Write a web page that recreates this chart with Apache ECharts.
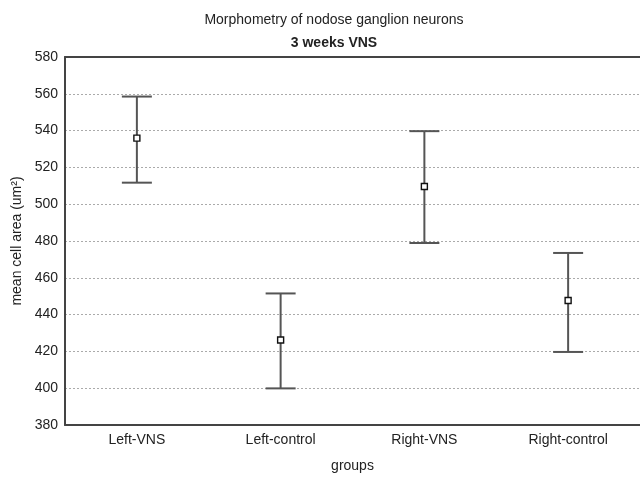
<!DOCTYPE html>
<html><head><meta charset="utf-8">
<script src="https://cdn.jsdelivr.net/npm/echarts@6/dist/echarts.min.js"></script>
<style>html,body{margin:0;padding:0;background:#fff}#c{width:640px;height:478px}</style>
</head><body><div id="c"></div>
<script>
const categories = ['Left-VNS', 'Left-control', 'Right-VNS', 'Right-control'];
const means = [535.9, 426.2, 509.6, 447.7];
const upper = [558.5, 451.5, 539.7, 473.5];
const lower = [511.7, 399.9, 478.9, 419.7];
const yTicks = { min: 380, max: 580, step: 20 };

const font = 'Liberation Sans, Arial, sans-serif';
const chart = echarts.init(document.getElementById('c'));
const errData = categories.map((c, i) => [i, lower[i], upper[i], means[i]]);

chart.setOption({
  animation: false,
  title: [
    { text: 'Morphometry of nodose ganglion neurons', left: 329, textAlign: 'center', top: 8,
      textStyle: { fontFamily: font, fontSize: 14, fontWeight: 'normal', color: '#222' } },
    { text: '3 weeks VNS', left: 329, textAlign: 'center', top: 31,
      textStyle: { fontFamily: font, fontSize: 14, fontWeight: 'bold', color: '#222' } }
  ],
  grid: { left: 65, top: 57, width: 580, height: 373, show: false },
  xAxis: [{
    type: 'category', data: categories, boundaryGap: true, position: 'bottom',
    name: 'groups', nameLocation: 'middle', nameGap: 34,
    nameTextStyle: { fontFamily: font, fontSize: 14, color: '#222' },
    axisLine: { lineStyle: { color: '#444', width: 2 } },
    axisTick: { inside: true, alignWithLabel: true, length: 4, lineStyle: { color: '#222' } },
    axisLabel: { fontFamily: font, fontSize: 14, color: '#222', margin: 8 },
    splitLine: { show: false }
  }, {
    type: 'category', data: categories, boundaryGap: true, position: 'top',
    axisLine: { lineStyle: { color: '#444', width: 2 } },
    axisTick: { inside: true, alignWithLabel: true, length: 4, lineStyle: { color: '#222' } },
    axisLabel: { show: false }
  }],
  yAxis: {
    type: 'value', min: yTicks.min, max: yTicks.max, interval: yTicks.step,
    name: 'mean cell area (um²)', nameLocation: 'middle', nameGap: 38, nameRotate: 90,
    nameTextStyle: { fontFamily: font, fontSize: 14, color: '#222' },
    axisLine: { show: true, lineStyle: { color: '#444', width: 2 } },
    axisTick: { show: false },
    axisLabel: { fontFamily: font, fontSize: 14, color: '#222', margin: 7 },
    splitLine: { show: true, lineStyle: { color: '#aaa', type: [2, 2], width: 1 } }
  },
  series: [{
    type: 'custom',
    data: errData,
    clip: false,
    renderItem: function (params, api) {
      const x = api.value(0);
      const lo = api.coord([x, api.value(1)]);
      const hi = api.coord([x, api.value(2)]);
      const m = api.coord([x, api.value(3)]);
      const hw = 15;
      const st = { stroke: '#555', lineWidth: 2 };
      return {
        type: 'group',
        children: [
          { type: 'line', shape: { x1: hi[0], y1: hi[1], x2: lo[0], y2: lo[1] }, style: st },
          { type: 'line', shape: { x1: hi[0] - hw, y1: hi[1], x2: hi[0] + hw, y2: hi[1] }, style: st },
          { type: 'line', shape: { x1: lo[0] - hw, y1: lo[1], x2: lo[0] + hw, y2: lo[1] }, style: st },
          { type: 'rect', shape: { x: m[0] - 3, y: m[1] - 3, width: 6, height: 6 }, style: { fill: '#fff', stroke: '#111', lineWidth: 1.4 } }
        ]
      };
    }
  }]
});
</script></body></html>
